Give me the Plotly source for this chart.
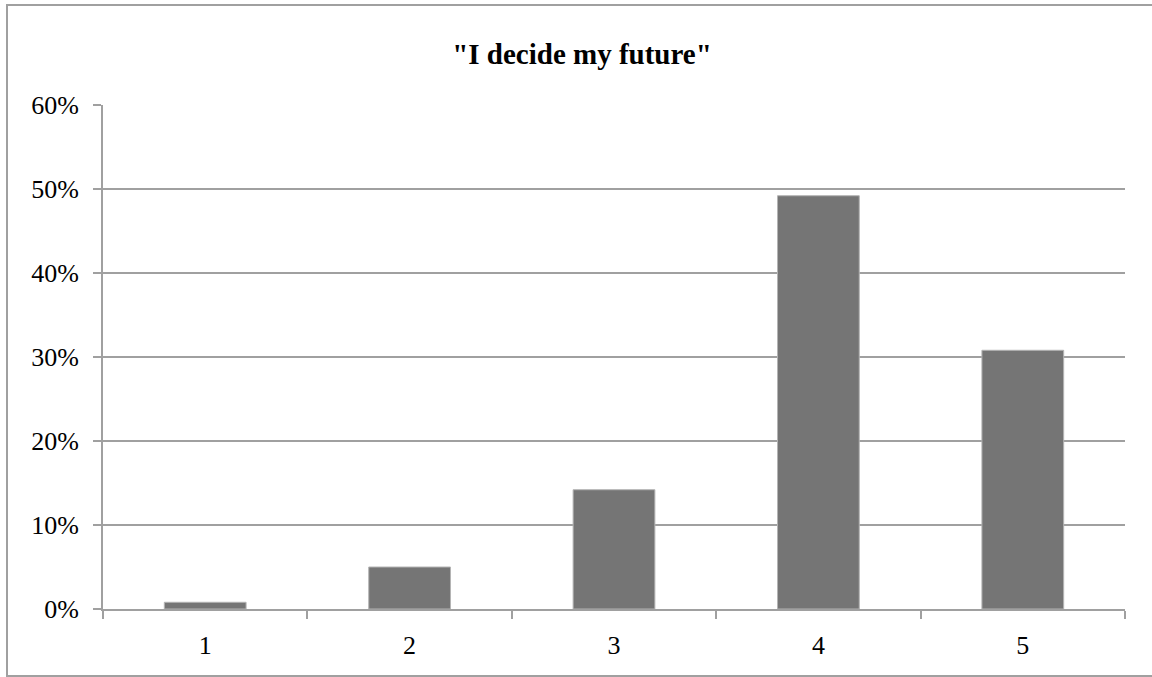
import plotly.graph_objects as go

categories = ["1", "2", "3", "4", "5"]
values = [0.008, 0.050, 0.142, 0.492, 0.308]
y_ticks = [0, 0.1, 0.2, 0.3, 0.4, 0.5, 0.6]
y_tick_labels = ["0%", "10%", "20%", "30%", "40%", "50%", "60%"]
title = '"I decide my future"'

W, H = 1152, 677
L, R, T, B = 103, 1152 - 1125, 105, 677 - 609
pw, ph = W - L - R, H - T - B

fig = go.Figure(go.Bar(
    x=categories, y=values,
    marker=dict(color="#757575", line=dict(color="#b4b4b4", width=1)),
))

font_fam = "Liberation Serif, DejaVu Serif, serif"
fig.update_layout(
    width=W, height=H,
    margin=dict(l=L, r=R, t=T, b=B),
    paper_bgcolor="white", plot_bgcolor="white",
    bargap=0.6,
    showlegend=False,
    font=dict(family=font_fam, size=26, color="black"),
    title=dict(text="<b>" + title + "</b>", x=582 / W, xanchor="center",
               y=1 - 54 / H, yanchor="middle",
               font=dict(family=font_fam, size=29, color="black")),
    xaxis=dict(type="category", showline=True, linecolor="#a0a0a0", linewidth=2,
               ticks="outside", tickson="boundaries", ticklen=8, tickcolor="#a0a0a0",
               tickwidth=2, showgrid=False, tickfont=dict(size=26),
               ticklabelstandoff=12),
    yaxis=dict(range=[0, 0.6], tickvals=y_ticks, ticktext=y_tick_labels,
               showline=True, linecolor="#a0a0a0", linewidth=2,
               ticks="outside", ticklen=8, tickcolor="#a0a0a0", tickwidth=2,
               showgrid=True, gridcolor="#a0a0a0", gridwidth=2,
               zeroline=False, tickfont=dict(size=26), ticklabelstandoff=9),
)

# outer chart frame
fig.add_shape(type="rect", xref="paper", yref="paper",
              x0=(7 - L) / pw, x1=(1160 - L) / pw,
              y0=1 - (676 - T) / ph, y1=1 - (5 - T) / ph,
              line=dict(color="#a0a0a0", width=2), fillcolor="rgba(0,0,0,0)",
              layer="below")

fig.write_html("out.html")
